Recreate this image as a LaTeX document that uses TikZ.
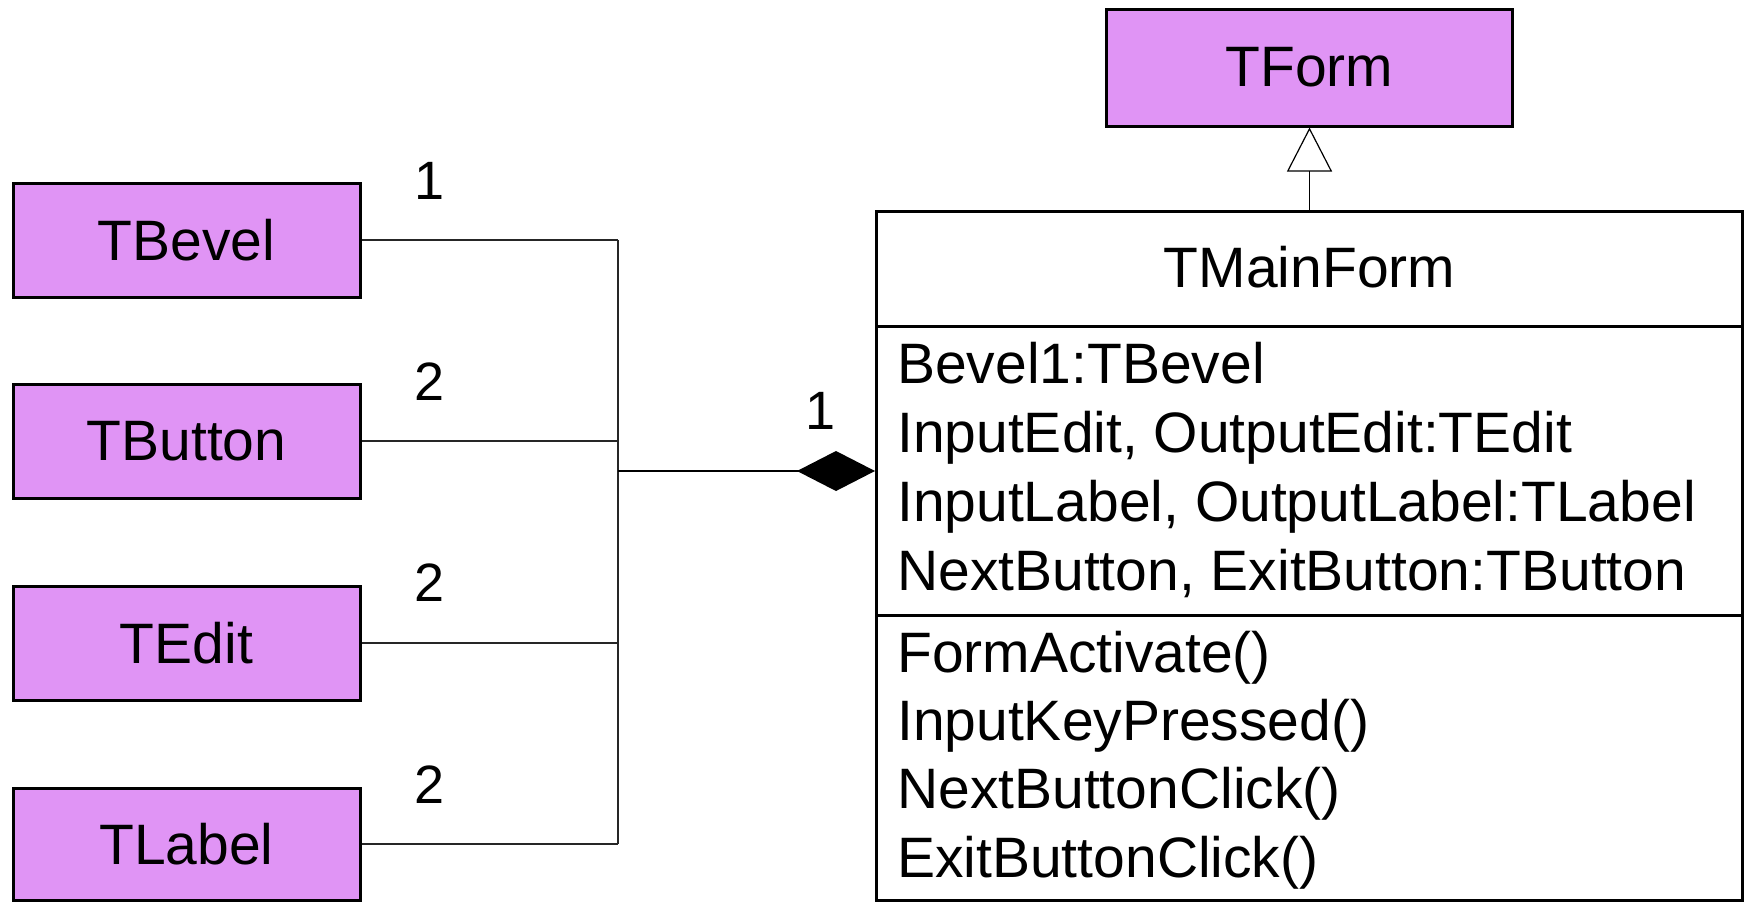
\documentclass[tikz,border=0pt]{standalone}
\usepackage{fontspec}
\setmainfont{Liberation Sans}
\usetikzlibrary{arrows.meta}
\definecolor{clsfill}{RGB}{224,148,245}
\begin{document}
\begin{tikzpicture}[x=1pt,y=-1pt,
  every node/.style={font=\fontsize{57}{68}\selectfont},
  cls/.style={draw=black, line width=3pt, fill=clsfill, minimum width=347pt, minimum height=114pt, inner sep=0pt},
  link/.style={draw=black!85, line width=1.2pt},
  mult/.style={anchor=base, inner sep=0pt, font=\fontsize{54}{64}\selectfont},
  member/.style={anchor=base west, inner sep=0pt}]
\useasboundingbox (0,0) rectangle (1750,902);

% classes on the left
\node[cls] (tbevel) at (186.5,240) {TBevel};
\node[cls] (tbutton) at (186.5,441) {TButton};
\node[cls] (tedit) at (186.5,643) {TEdit};
\node[cls, minimum height=112pt] (tlabel) at (186.5,844) {TLabel};

% TForm
\node[cls, minimum width=406pt, minimum height=117pt] (tform) at (1309.5,67.5) {TForm};

% TMainForm
\node[draw=black, line width=3pt, fill=white, minimum width=866pt, minimum height=689pt, inner sep=0pt] (main) at (1309.5,556) {};
\node[anchor=base, inner sep=0pt] (title) at (1309.5,287) {TMainForm};
\coordinate (d1) at (0,326);
\coordinate (d2) at (0,615);
\draw[line width=3pt] (main.west |- d1) -- (main.east |- d1);
\draw[line width=3pt] (main.west |- d2) -- (main.east |- d2);
\node[member] (a1) at (897,383) {Bevel1:TBevel};
\node[member] (a2) at (897,452) {InputEdit, OutputEdit:TEdit};
\node[member] (a3) at (897,521) {InputLabel, OutputLabel:TLabel};
\node[member] (a4) at (897,590) {NextButton, ExitButton:TButton};
\node[member] (o1) at (897,672) {FormActivate()};
\node[member] (o2) at (897,740) {InputKeyPressed()};
\node[member] (o3) at (897,808) {NextButtonClick()};
\node[member] (o4) at (897,877) {ExitButtonClick()};

% generalization
\draw[line width=1.2pt, -{Triangle[length=44pt,width=45pt,fill=white]}] (main.north) -- (tform.south);

% composition connectors
\coordinate (jt) at (618,240);
\coordinate (jb) at (618,844);
\coordinate (jm) at (618,471);
\draw[link] (tbevel.east) -- (tbevel.east -| jt);
\draw[link] (tbutton.east) -- (tbutton.east -| jt);
\draw[link] (tedit.east) -- (tedit.east -| jt);
\draw[link] (tlabel.east) -- (tlabel.east -| jt);
\draw[link] (jt) -- (jb);
\draw[line width=2pt, -{Diamond[length=78pt,width=40pt,fill=black]}] (jm) -- (main.west |- jm);

% multiplicities
\node[mult] (m1) at (430,199) {1};
\node[mult] (m2) at (430,400) {2};
\node[mult] (m3) at (430,601) {2};
\node[mult] (m4) at (430,803) {2};
\node[mult] (m5) at (821,429) {1};
\end{tikzpicture}
\end{document}
